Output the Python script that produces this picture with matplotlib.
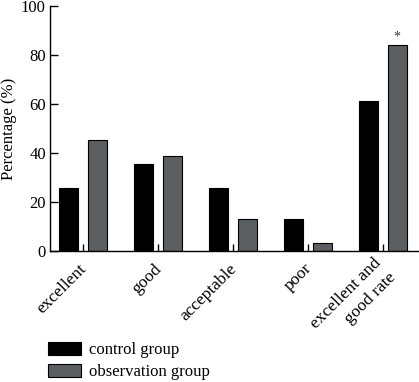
import numpy as np
import matplotlib
matplotlib.use("Agg")
import matplotlib.pyplot as plt

# data (percent of patients)
categories = ["excellent", "good", "acceptable", "poor", "excellent and\ngood rate"]
control_group = [25.8, 35.5, 25.8, 12.9, 61.3]
observation_group = [45.2, 38.7, 12.9, 3.2, 83.9]
series_names = ["control group", "observation group"]

plt.rcParams['font.family'] = ['Liberation Serif', 'DejaVu Serif']

fig = plt.figure(figsize=(4.19, 3.82), dpi=100)
ax = fig.add_axes([0.1193, 0.3429, 0.8807, 0.6414])

x = np.arange(len(categories))
width = 0.25
offset = 0.19
ax.bar(x - offset, control_group, width, color='#000000', edgecolor='#000000',
       linewidth=0.8, label=series_names[0])
ax.bar(x + offset, observation_group, width, color='#5c5f62', edgecolor='#000000',
       linewidth=0.8, label=series_names[1])

# significance mark on the last group
ax.text(x[-1] + offset, observation_group[-1] + 0.8, "*", ha='center', va='bottom',
        fontsize=10, color='#333333')

ax.set_xlim(-0.44, 4.48)
ax.set_ylim(0, 100)
ax.set_yticks([0, 20, 40, 60, 80, 100])
ax.set_xticks(x)
ax.set_xticklabels(categories, rotation=45, ha='right', va='center_baseline',
                   rotation_mode='anchor', fontsize=12.5, linespacing=1.35)
ax.tick_params(axis='y', direction='in', length=6, width=1, labelsize=12, pad=3)
ax.tick_params(axis='x', direction='in', length=5, width=1, pad=10)
ax.set_ylabel("Percentage (%)", fontsize=12, labelpad=3)

for side in ['top', 'right']:
    ax.spines[side].set_visible(False)
for side in ['left', 'bottom']:
    ax.spines[side].set_linewidth(1)

fig.legend(loc='upper left', bbox_to_anchor=(0.098, 0.122), frameon=False,
           fontsize=12, handlelength=2.0, handleheight=0.8, labelspacing=0.35,
           handletextpad=0.5, borderaxespad=0)

fig.savefig("out.png", dpi=100)
